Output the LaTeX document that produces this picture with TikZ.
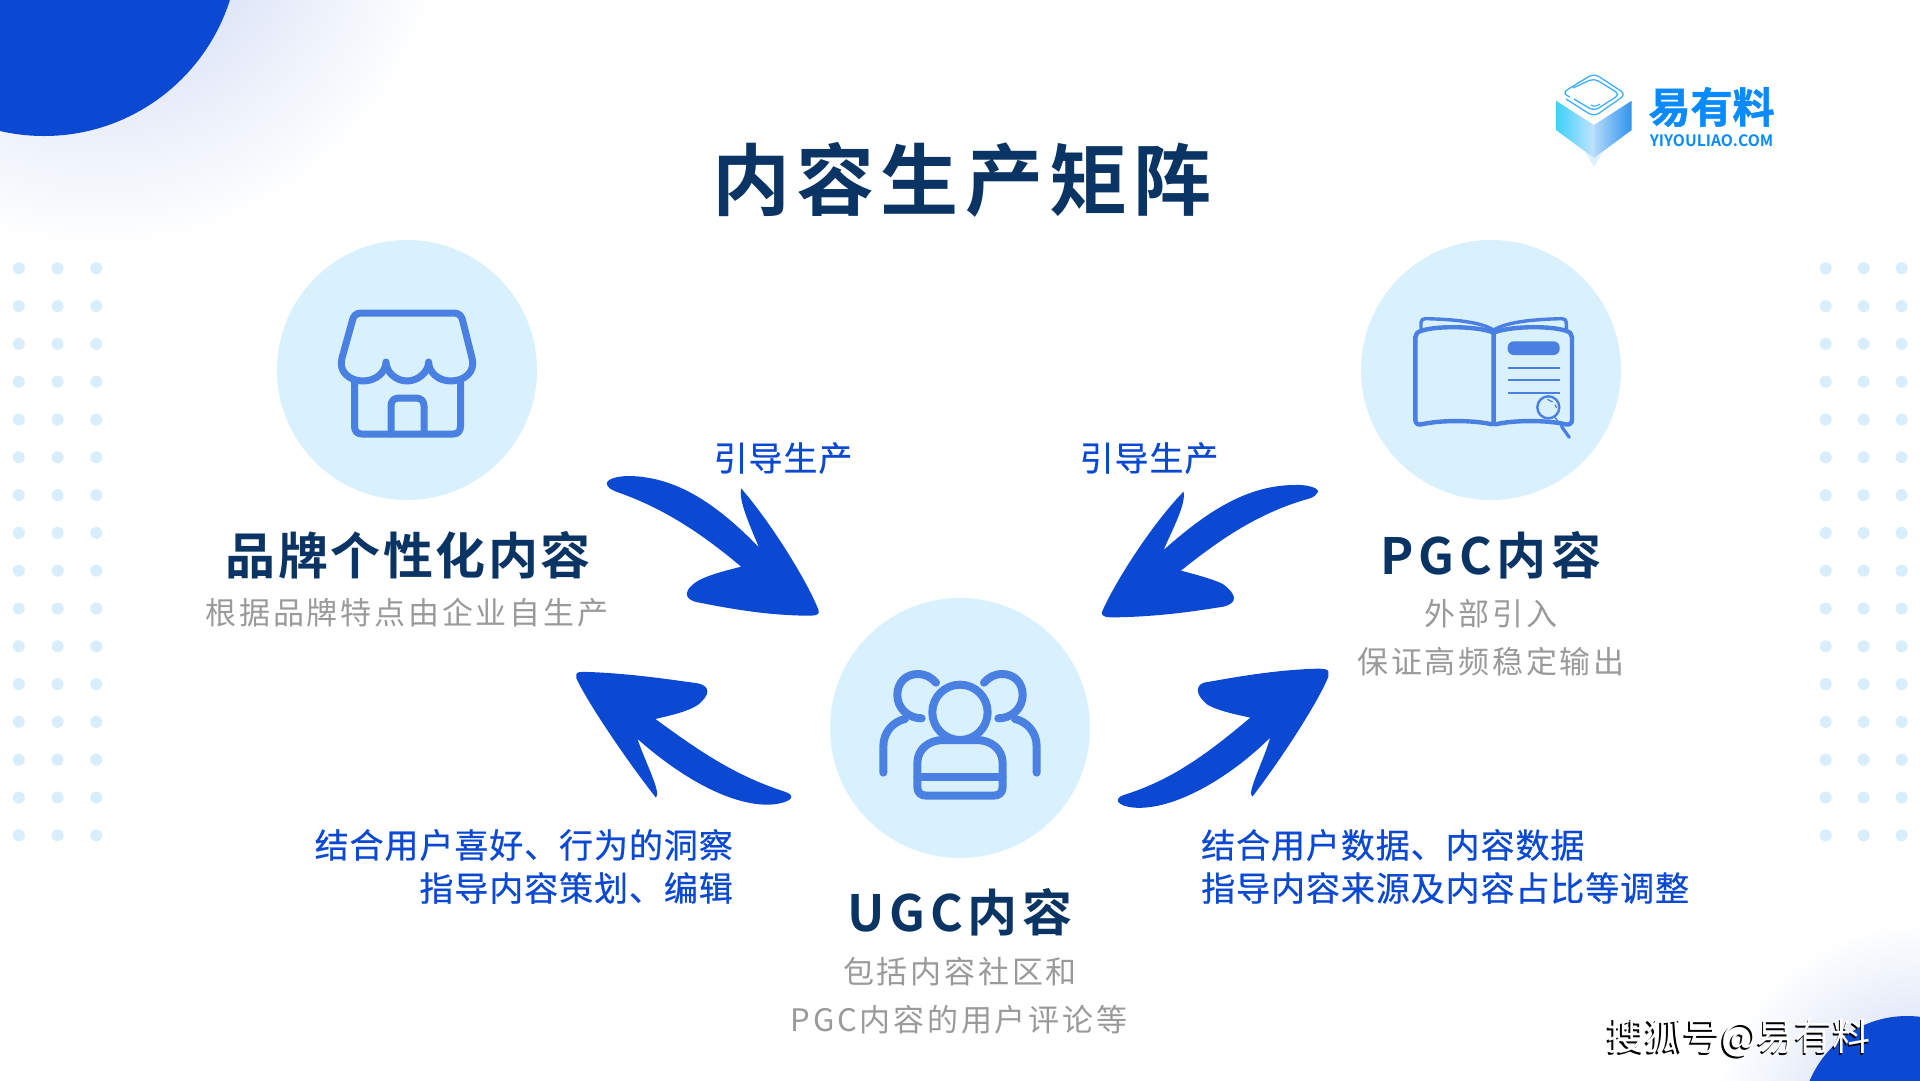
\documentclass[tikz,border=0pt]{standalone}
\usepackage{fontspec}
\setmainfont{Noto Sans CJK SC}
\newfontfamily\cjkreg{Noto Sans CJK SC}
\newfontfamily\cjkmed[FakeBold=0.5]{Noto Sans CJK SC}
\newfontfamily\cjkheavy[FakeBold=1.2]{Noto Sans CJK SC Bold}
\newfontfamily\cjkb{Noto Sans CJK SC Bold}
\definecolor{royal}{HTML}{0C49D2}
\definecolor{navy}{HTML}{0A3464}
\definecolor{disc}{HTML}{D9F1FC}
\definecolor{iconblue}{HTML}{4A80E2}
\definecolor{dotblue}{HTML}{D8EEFC}
\definecolor{greytext}{HTML}{9A9A9A}
\definecolor{logoblue}{HTML}{0B8BFB}
\definecolor{logoline}{HTML}{3FB0F8}
\definecolor{glowcore}{HTML}{DDE5F7}
\pgfdeclarehorizontalshading{faceL}{100bp}{rgb(0bp)=(0.24,0.82,0.98); rgb(25bp)=(0.24,0.82,0.98); rgb(75bp)=(0.76,0.89,0.99); rgb(100bp)=(0.76,0.89,0.99)}
\pgfdeclarehorizontalshading{faceR}{100bp}{rgb(0bp)=(0.70,0.85,0.98); rgb(25bp)=(0.70,0.85,0.98); rgb(75bp)=(0.18,0.58,0.93); rgb(100bp)=(0.18,0.58,0.93)}
\tikzset{
  disc/.style={circle,fill=disc,minimum size=260pt,inner sep=0pt},
  iconline/.style={draw=iconblue,line cap=round,line join=round,fill=none},
  bluearrow/.style={fill=royal},
  headtext/.style={inner sep=0pt,text=navy,font=\cjkb\fontsize{50}{58}\selectfont\addfontfeature{LetterSpace=5}},
  headtextwide/.style={inner sep=0pt,text=navy,font=\cjkb\fontsize{50}{58}\selectfont\addfontfeature{LetterSpace=9.5}},
  subtext/.style={inner sep=0pt,text=greytext,font=\cjkreg\fontsize{31}{37}\selectfont\addfontfeature{LetterSpace=9}},
  bluetext/.style={inner sep=0pt,text=royal,font=\cjkmed\fontsize{34}{41}\selectfont\addfontfeature{LetterSpace=2.7}},
  dot/.style={fill=dotblue},
}
\newcommand{\glowrings}[3]{% centre x, centre y, radius
  \foreach \ff in {1.00,0.98,...,0.30}{
    \pgfmathsetmacro{\mixp}{min(100,100*(1-\ff)/0.55)}
    \fill[glowcore!\mixp!white] (#1,#2) circle ({#3*\ff});
  }
}
\begin{document}
\begin{tikzpicture}[x=1pt,y=-1pt]
\useasboundingbox (0,0) rectangle (1920,1080);
\clip (0,0) rectangle (1920,1080);
\fill[white] (0,0) rectangle (1920,1080);
% glows and corner discs
\glowrings{100}{-100}{350}
\fill[royal] (44,-59) circle (195);
\glowrings{1925}{1135}{215}
\fill[royal] (1907,1121.5) circle (105.5);
% dot grids
\foreach \yy in {0,...,15}{
  \foreach \xx in {18.8,57.6,96.3,1825.7,1863.6,1901.6}{
    \fill[dot] (\xx,268.3+37.8*\yy) circle (6);
  }
}
% discs
\node[disc] (brandDisc) at (407,370) {};
\node[disc] (pgcDisc) at (1491,370) {};
\node[disc] (ugcDisc) at (960,728) {};
% store icon
\draw[iconline,line width=7pt] (342,358) -- (352,322) .. controls (353,316) and (356,313) .. (361,313) -- (454,313) .. controls (459,313) and (462,316) .. (463,322) -- (472,358)
  .. controls (476,372) and (464,381) .. (451,381) .. controls (438,381) and (428.6,372) .. (428.6,362)
  .. controls (428.6,372) and (418,381) .. (407,381) .. controls (396,381) and (386,372) .. (386,362)
  .. controls (386,372) and (376,381) .. (363,381) .. controls (350,381) and (338,372) .. (342,358) -- cycle;
\draw[iconline,line width=7pt] (354.5,381) -- (354.5,426) .. controls (354.5,431) and (357,434) .. (362,434) -- (453,434) .. controls (458,434) and (460.5,431) .. (460.5,426) -- (460.5,381);
\draw[iconline,line width=7pt] (391,434) -- (391,406) .. controls (391,401) and (394,398) .. (399,398) -- (416,398) .. controls (421,398) and (424,401) .. (424,406) -- (424,434);
% book icon
\begin{scope}[shift={(1340,280)},x=0.3333pt,y=-0.3333pt]
  \draw[iconline,line width=3.4pt] (243,150) -- (243,128) .. controls (243,120) and (248,116) .. (256,116) .. controls (340,118) and (420,125) .. (461,150);
  \draw[iconline,line width=3.4pt] (679,150) -- (679,128) .. controls (679,120) and (674,116) .. (666,116) .. controls (582,118) and (502,125) .. (461,150);
  \draw[iconline,line width=4.4pt] (461,158) .. controls (420,140) and (300,135) .. (245,152) .. controls (232,156) and (226,162) .. (226,172) -- (226,420) .. controls (226,430) and (234,436) .. (245,433) .. controls (300,420) and (400,420) .. (455,433) -- (461,430) -- (461,158);
  \draw[iconline,line width=4.4pt] (461,158) .. controls (502,140) and (622,135) .. (677,152) .. controls (690,156) and (696,162) .. (696,172) -- (696,420) .. controls (696,430) and (688,436) .. (677,433) .. controls (622,420) and (522,420) .. (467,433) -- (461,430);
  \fill[iconblue,rounded corners=6pt] (503,184) rectangle (659,225);
  \draw[iconblue,line width=2pt] (503,264) -- (659,264) (503,301) -- (659,301) (503,340) -- (659,340);
  \fill[disc] (625,382) circle (34);
  \draw[iconline,line width=2.4pt] (625,382) circle (33);
  \draw[iconblue,line width=1.2pt] (622,358) -- (638,366) (645,374) -- (650,384);
  \draw[iconline,line width=1.4pt] (645,412) -- (665,440);
  \draw[iconline,line width=3.2pt] (665,440) -- (688,472);
\end{scope}
% people icon
\begin{scope}[shift={(840,650)},x=0.3333pt,y=-0.3333pt]
  \draw[iconline,line width=8pt] (360,187) circle (83);
  \draw[iconline,line width=8pt] (310,270) -- (410,270) .. controls (450,270) and (488,295) .. (488,340) -- (488,410) .. controls (488,428) and (478,437) .. (460,437) -- (260,437) .. controls (242,437) and (232,428) .. (232,410) -- (232,340) .. controls (232,295) and (270,270) .. (310,270) -- cycle;
  \draw[iconline,line width=8pt] (232,380) -- (488,380);
  \draw[iconline,line width=8pt] (288,98) .. controls (270,78) and (250,72) .. (235,72) .. controls (195,72) and (172,100) .. (172,135) .. controls (172,175) and (205,205) .. (245,205);
  \draw[iconline,line width=8pt] (130,368) -- (130,290) .. controls (130,245) and (160,215) .. (195,207);
  \draw[iconline,line width=8pt] (432,98) .. controls (450,78) and (470,72) .. (485,72) .. controls (525,72) and (548,100) .. (548,135) .. controls (548,175) and (515,205) .. (475,205);
  \draw[iconline,line width=8pt] (590,368) -- (590,290) .. controls (590,245) and (560,215) .. (525,207);
\end{scope}
% big arrows
\begin{scope}[shift={(560,440)},x=0.5102pt,y=-0.3333pt]
  \fill[bluearrow] (92,132) .. controls (90,118) and (112,108) .. (135,108) .. controls (235,110) and (315,205) .. (390,322)
    .. controls (370,250) and (350,180) .. (355,145) .. controls (420,260) and (490,440) .. (507,512)
    .. controls (510,525) and (500,528) .. (480,527) .. controls (400,525) and (330,505) .. (270,487)
    .. controls (240,478) and (243,448) .. (270,423) .. controls (290,405) and (325,392) .. (355,380)
    .. controls (270,270) and (195,200) .. (110,155) .. controls (100,149) and (93,142) .. (92,132) -- cycle;
  \fill[bluearrow] (1485,157) .. controls (1490,145) and (1465,133) .. (1440,135) .. controls (1335,135) and (1250,240) .. (1183,330)
    .. controls (1200,270) and (1228,190) .. (1222,155) .. controls (1150,270) and (1080,450) .. (1062,517)
    .. controls (1060,530) and (1072,533) .. (1090,532) .. controls (1170,530) and (1240,515) .. (1300,500)
    .. controls (1328,490) and (1328,465) .. (1300,433) .. controls (1285,420) and (1250,405) .. (1217,392)
    .. controls (1300,290) and (1375,215) .. (1470,175) .. controls (1478,170) and (1483,165) .. (1485,157) -- cycle;
  \fill[bluearrow] (32,703) .. controls (32,696) and (40,695) .. (55,696) .. controls (130,700) and (200,715) .. (270,730)
    .. controls (295,738) and (295,765) .. (270,795) .. controls (250,815) and (220,825) .. (187,837)
    .. controls (270,930) and (340,1005) .. (440,1055) .. controls (462,1065) and (458,1085) .. (420,1093)
    .. controls (340,1105) and (235,1010) .. (152,897) .. controls (165,960) and (200,1060) .. (188,1073)
    .. controls (130,960) and (55,790) .. (32,715) -- cycle;
  \fill[bluearrow] (1506,695) .. controls (1505,688) and (1498,686) .. (1485,686) .. controls (1400,690) and (1330,710) .. (1262,728)
    .. controls (1245,738) and (1245,765) .. (1270,795) .. controls (1290,812) and (1320,822) .. (1353,833)
    .. controls (1270,940) and (1200,1020) .. (1105,1065) .. controls (1086,1075) and (1088,1097) .. (1125,1103)
    .. controls (1205,1112) and (1315,1010) .. (1392,893) .. controls (1380,960) and (1345,1060) .. (1357,1070)
    .. controls (1410,965) and (1485,790) .. (1506,710) -- cycle;
\end{scope}
% logo cube
\shade[shading=faceL] (1556,100.7) -- (1594,125) -- (1594,158) -- (1556,130) -- cycle;
\shade[shading=faceR] (1594,125) -- (1631.7,100.7) -- (1631.7,130) -- (1594,158) -- cycle;
\fill[logoline!18] (1594,158) -- (1585,151.5) -- (1594,167) -- (1603,151.5) -- cycle;
\draw[logoline,line width=1.3pt,rounded corners=6pt] (1570,97) -- (1562,93) -- (1594,73.3) -- (1626,94.3) -- (1594,116.7) -- (1566,99);
\draw[logoline,line width=1.3pt,rounded corners=5pt] (1573,88) -- (1594,78.3) -- (1620,94.3) -- (1594,111) -- (1574,99);
\draw[logoline,line width=1.1pt] (1591,105) .. controls (1594,107) and (1597,106) .. (1600,104);
\node[inner sep=0pt,text=logoblue,font=\cjkheavy\fontsize{42}{48}\selectfont] (logoCn) at (1711.5,107) {易有料};
\node[inner sep=0pt,text=logoblue,font=\cjkb\fontsize{15.7}{18}\selectfont] (logoEn) at (1711.5,141) {YIYOULIAO.COM};
% title
\node[inner sep=0pt,text=navy,font=\cjkb\fontsize{78}{86}\selectfont\addfontfeature{LetterSpace=8}] (title) at (962,180) {内容生产矩阵};
% texts
\node[headtext] (brandHead) at (408,555) {品牌个性化内容};
\node[subtext] (brandSub) at (407,613) {根据品牌特点由企业自生产};
\node[headtextwide] (pgcHead) at (1491,555) {PGC内容};
\node[subtext] (pgcSubA) at (1491,614) {外部引入};
\node[subtext] (pgcSubB) at (1491,662) {保证高频稳定输出};
\node[headtextwide] (ugcHead) at (960,912) {UGC内容};
\node[subtext] (ugcSubA) at (960,972) {包括内容社区和};
\node[subtext] (ugcSubB) at (959,1020) {PGC内容的用户评论等};
\node[bluetext] (guideL) at (783,458) {引导生产};
\node[bluetext] (guideR) at (1149,458) {引导生产};
\node[bluetext,anchor=east] (leftA) at (733,845) {结合用户喜好、行为的洞察};
\node[bluetext,anchor=east] (leftB) at (733,888) {指导内容策划、编辑};
\node[bluetext,anchor=west] (rightA) at (1201,845) {结合用户数据、内容数据};
\node[bluetext,anchor=west] (rightB) at (1201,888) {指导内容来源及内容占比等调整};
% watermark
\node[inner sep=0pt,text=black,font=\cjkreg\fontsize{38}{44}\selectfont] (markShadow) at (1737.5,1039.5) {搜狐号@易有料};
\node[inner sep=0pt,text=white,font=\cjkreg\fontsize{38}{44}\selectfont] (markText) at (1739,1038) {搜狐号@易有料};
\end{tikzpicture}
\end{document}
